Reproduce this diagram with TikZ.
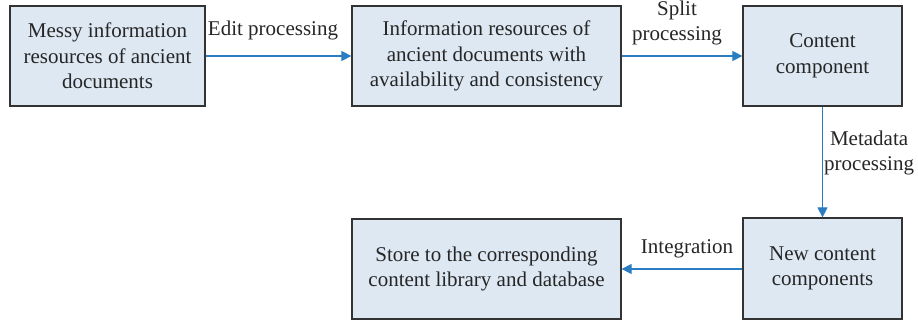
\documentclass[tikz,border=0pt]{standalone}
\usepackage{fontspec}
\setmainfont{Liberation Serif}
\usetikzlibrary{arrows.meta}
\definecolor{boxfill}{HTML}{DDE8F3}
\definecolor{boxline}{HTML}{333333}
\definecolor{arrowblue}{HTML}{2A7DC2}
\tikzset{
  box/.style={draw=boxline, fill=boxfill, line width=1.2pt, align=center, inner sep=0pt,
    font=\fontsize{21}{25.5}\selectfont, text=black!85},
  conn/.style={draw=arrowblue, line width=1.1pt, -{Triangle[length=10pt,width=10pt]}},
  lbl/.style={font=\fontsize{21}{25.5}\selectfont, text=black!85, align=center, inner sep=1pt}
}
\begin{document}
\begin{tikzpicture}[x=1pt,y=1pt]
\useasboundingbox (0,0) rectangle (918,321);
\node[box, minimum width=195pt, minimum height=100pt] (a) at (107.5,265) {Messy information\\resources of ancient\\documents};
\node[box, minimum width=269pt, minimum height=100pt] (b) at (486.5,265) {Information resources of\\ancient documents with\\availability and consistency};
\node[box, minimum width=159pt, minimum height=100pt] (c) at (822.5,265) {Content\\component};
\node[box, minimum width=159pt, minimum height=101pt] (d) at (822.5,52.5) {New content\\components};
\node[box, minimum width=269pt, minimum height=100pt] (e) at (486.5,52) {Store to the corresponding\\content library and database};
\draw[conn] (a.east |- 0,265) -- (b.west |- 0,265);
\draw[conn] (b.east |- 0,265) -- (c.west |- 0,265);
\draw[conn] (c.south) -- (d.north);
\draw[conn] (d.west |- 0,52) -- (e.east |- 0,52);
\node[lbl] (l1) at (273,291) {Edit processing};
\node[lbl] (l2) at (677,298) {Split\\processing};
\node[lbl, anchor=west] (l3) at (823,168) {Metadata\\processing};
\node[lbl] (l4) at (687,72) {Integration};
\end{tikzpicture}
\end{document}
